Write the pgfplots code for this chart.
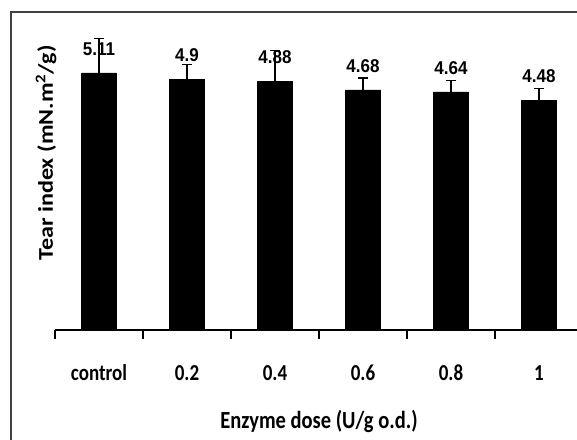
\documentclass[border=0pt]{standalone}
\usepackage{pgfplots}
\pgfplotsset{compat=1.18}
\usepackage{pgfplotstable}
\usepackage{fontspec}
\setmainfont{Carlito}
\newfontfamily\arialfont{Liberation Sans}
\pgfplotstableread{
x y e lab
0 5.02 0.68 5.11
1 4.90 0.29 4.9
2 4.86 0.60 4.88
3 4.69 0.23 4.68
4 4.65 0.23 4.64
5 4.49 0.23 4.48
}\datatable
\begin{document}
\begin{tikzpicture}
\path[use as bounding box] (0pt,0pt) rectangle (577pt,439pt);
\clip (0pt,0pt) rectangle (577pt,439pt);
\draw[line width=1.6pt, black!75] (11pt,427pt) rectangle (640pt,-40pt);
\begin{axis}[
  at={(55pt,109pt)}, anchor=south west,
  x=88pt, y=51.2pt,
  xmin=-0.5, xmax=5.5, ymin=0, ymax=5.8,
  axis x line*=bottom, axis y line*=left,
  x axis line style={-, line width=1.2pt, black},
  y axis line style={draw=none},
  ytick=\empty,
  xtick={0,1,2,3,4,5},
  xticklabels={control,0.2,0.4,0.6,0.8,1},
  major tick length=0pt,
  minor xtick={-0.5,0.5,1.5,2.5,3.5,4.5,5.5},
  minor tick length=9pt,
  tick align=outside,
  minor tick style={line width=1.2pt, black},
  xticklabel style={font=\bfseries\fontsize{19}{20}\selectfont, anchor=base, yshift=-50pt, yscale=1.2, text=black},
  xlabel={Enzyme dose (U/g o.d.)},
  xlabel style={at={(axis description cs:0.5,0)}, anchor=base, yshift=-98pt, yscale=1.2, font=\bfseries\fontsize{20.5}{22}\selectfont, text=black},
  ylabel={Tear index (mN.m\textsuperscript{2}/g)},
  ylabel style={at={(axis description cs:-0.017,0.596)}, anchor=center, xscale=1.15, font=\bfseries\fontsize{21}{22}\selectfont, text=black},
  clip=false,
]
\addplot[ybar, bar width=35pt, fill=black, draw=black,
  point meta=explicit symbolic,
  nodes near coords,
  every node near coord/.append style={font=\arialfont\bfseries\fontsize{18.5}{19}\selectfont, anchor=south, inner sep=0pt, yshift=17pt, xscale=0.92, text=black},
  error bars/.cd, y dir=plus, y explicit,
  error bar style={line width=1.2pt, black},
  error mark options={rotate=90, mark size=5pt, line width=1.2pt, black}]
  table[x=x, y=y, y error=e, meta=lab] {\datatable};
\end{axis}
\end{tikzpicture}
\end{document}
